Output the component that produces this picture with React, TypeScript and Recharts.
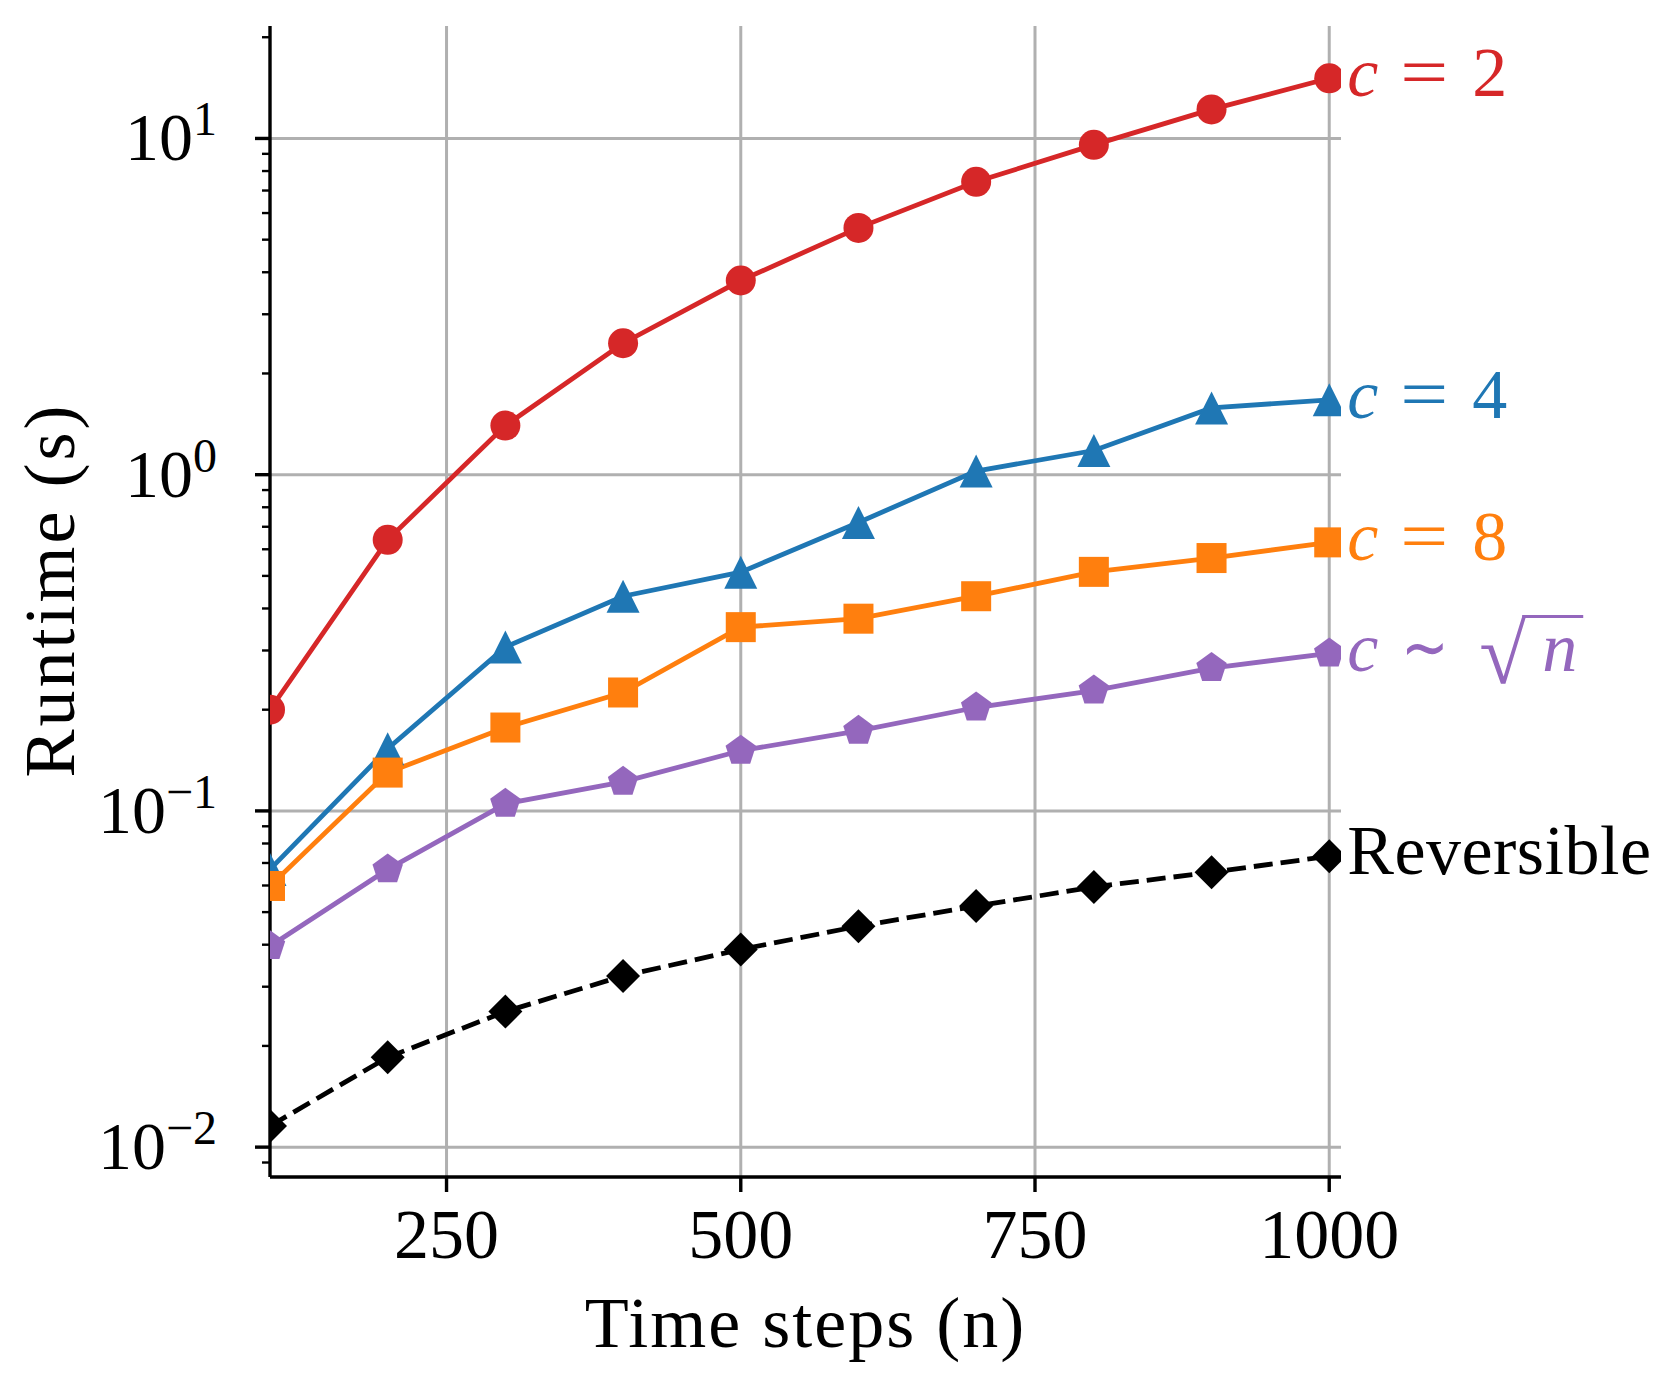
import React from "react";
import { LineChart, Line, XAxis, YAxis, CartesianGrid, LabelList } from "recharts";

// time steps on the x axis
const steps = [100, 200, 300, 400, 500, 600, 700, 800, 900, 1000];

// runtime in seconds per checkpointing setting
const runtimeC2 = [0.2, 0.64, 1.4, 2.46, 3.78, 5.42, 7.43, 9.57, 12.2, 15.1];
const runtimeC4 = [0.067, 0.153, 0.307, 0.435, 0.513, 0.721, 1.025, 1.18, 1.58, 1.67];
const runtimeC8 = [0.0598, 0.13, 0.177, 0.225, 0.352, 0.373, 0.435, 0.514, 0.565, 0.629];
const runtimeSqrt = [0.0396, 0.067, 0.105, 0.122, 0.151, 0.173, 0.203, 0.228, 0.266, 0.294];
const runtimeReversible = [0.01156, 0.0185, 0.0253, 0.0323, 0.0387, 0.0454, 0.0521, 0.0594, 0.0657, 0.0733];

const xTicks = [250, 500, 750, 1000];
const yMajorTicks = [0.01, 0.1, 1, 10];
const yMinorTicks = [
  0.009,
  0.02, 0.03, 0.04, 0.05, 0.06, 0.07, 0.08, 0.09,
  0.2, 0.3, 0.4, 0.5, 0.6, 0.7, 0.8, 0.9,
  2, 3, 4, 5, 6, 7, 8, 9,
  20,
];
const yExponents: Record<string, string> = { "0.01": "\u22122", "0.1": "\u22121", "1": "0", "10": "1" };

const data = steps.map((n, i) => ({
  n,
  c2: runtimeC2[i],
  c4: runtimeC4[i],
  c8: runtimeC8[i],
  sqrt: runtimeSqrt[i],
  rev: runtimeReversible[i],
}));

const FONT = "'Liberation Serif', 'Times New Roman', serif";
const RED = "#d62728";
const BLUE = "#1f77b4";
const ORANGE = "#ff7f0e";
const PURPLE = "#9467bd";

const W = 1659;
const H = 1378;
const PLOT_LEFT = 270;
const PLOT_TOP = 26;
const PLOT_RIGHT = 1341;
const PLOT_BOTTOM = 1177;
const LINE_W = 4.8;

// marker shapes
const circleDot = (color: string) => (p: any) => (
  <circle key={`c-${p.index}`} cx={p.cx} cy={p.cy} r={15} fill={color} />
);
const triangleDot = (color: string) => (p: any) => {
  const s = 16.5;
  return (
    <polygon
      key={`t-${p.index}`}
      points={`${p.cx},${p.cy - s} ${p.cx - s},${p.cy + s} ${p.cx + s},${p.cy + s}`}
      fill={color}
    />
  );
};
const squareDot = (color: string) => (p: any) => (
  <rect key={`s-${p.index}`} x={p.cx - 15} y={p.cy - 15} width={30} height={30} fill={color} />
);
const pentagonDot = (color: string) => (p: any) => {
  const r = 16;
  const pts = [0, 1, 2, 3, 4]
    .map((k) => {
      const a = (-90 + 72 * k) * (Math.PI / 180);
      return `${p.cx + r * Math.cos(a)},${p.cy + r * Math.sin(a)}`;
    })
    .join(" ");
  return <polygon key={`p-${p.index}`} points={pts} fill={color} />;
};
const diamondDot = (color: string) => (p: any) => {
  const s = 17;
  return (
    <polygon
      key={`d-${p.index}`}
      points={`${p.cx},${p.cy - s} ${p.cx + s},${p.cy} ${p.cx},${p.cy + s} ${p.cx - s},${p.cy}`}
      fill={color}
    />
  );
};

// series name written right after the last point
const endLabel = (kind: string, color: string) => (p: any) => {
  if (p.index !== steps.length - 1) return null;
  const x = Number(p.x);
  const y = Number(p.y);
  const base = y + 18;
  const common = { fill: color, fontFamily: FONT, fontSize: 70 };
  if (kind === "rev") {
    return (
      <text x={x + 18} y={base} {...common} letterSpacing={0.5}>
        Reversible
      </text>
    );
  }
  if (kind === "sqrt") {
    return (
      <g>
        <text x={x + 18} y={base} {...common} fontStyle="italic">c</text>
        <text x={x + 72} y={base} {...common} textLength={48} lengthAdjust="spacingAndGlyphs">∼</text>
        <text x={x + 150} y={base + 12} {...common} fontSize={86}>√</text>
        <line x1={x + 193} x2={x + 254} y1={y - 37} y2={y - 37} stroke={color} strokeWidth={3} />
        <text x={x + 213} y={base} {...common} fontStyle="italic">n</text>
      </g>
    );
  }
  return (
    <g>
      <text x={x + 18} y={base} {...common} fontStyle="italic">c</text>
      <text x={x + 71} y={base} {...common} textLength={48} lengthAdjust="spacingAndGlyphs">=</text>
      <text x={x + 143} y={base} {...common}>{kind}</text>
    </g>
  );
};

const XTick = (p: any) => (
  <text x={p.x} y={p.y + 66} textAnchor="middle" fontFamily={FONT} fontSize={70} fill="#000">
    {p.payload.value}
  </text>
);

// y ticks: long tick and power-of-ten label on decades, short tick otherwise
const YTick = (p: any) => {
  const v = p.payload.value;
  const y = p.payload.coordinate ?? p.y;
  const major = yMajorTicks.includes(v);
  return (
    <g>
      <line x1={PLOT_LEFT - (major ? 15 : 8)} x2={PLOT_LEFT} y1={y} y2={y} stroke="#000" strokeWidth={major ? 3.4 : 2.4} />
      {major && (
        <text x={217} y={y + 22} textAnchor="end" fontFamily={FONT} fontSize={68} fill="#000">
          10
          <tspan dy={-25} fontSize={48}>{yExponents[String(v)]}</tspan>
        </text>
      )}
    </g>
  );
};

const XTitle = () => (
  <text x={(PLOT_LEFT + PLOT_RIGHT) / 2} y={1347} textAnchor="middle" fontFamily={FONT} fontSize={72} letterSpacing={2} fill="#000">
    Time steps (n)
  </text>
);

const YTitle = () => (
  <text
    x={74}
    y={590}
    textAnchor="middle"
    transform="rotate(-90, 74, 590)"
    fontFamily={FONT}
    fontSize={72}
    letterSpacing={3}
    fill="#000"
  >
    Runtime (s)
  </text>
);

export default function App() {
  return (
    <div style={{ position: "absolute", left: 0, top: 0, width: W, height: H, background: "#fff" }}>
      <LineChart
        width={W}
        height={H}
        data={data}
        margin={{ top: PLOT_TOP, right: W - PLOT_RIGHT, bottom: 0, left: 0 }}
      >
        <CartesianGrid
          stroke="#b0b0b0"
          strokeWidth={3}
          horizontalValues={yMajorTicks}
          verticalValues={xTicks}
        />
        <XAxis
          dataKey="n"
          type="number"
          domain={[100, 1010]}
          allowDataOverflow
          ticks={xTicks}
          interval={0}
          height={H - PLOT_BOTTOM}
          tickSize={15}
          tickMargin={0}
          tick={<XTick />}
          tickLine={{ stroke: "#000", strokeWidth: 3.4 }}
          axisLine={{ stroke: "#000", strokeWidth: 3.4 }}
          label={{ content: () => <XTitle /> }}
        />
        <YAxis
          type="number"
          scale="log"
          domain={[0.00815, 21.6]}
          allowDataOverflow
          ticks={[...yMajorTicks, ...yMinorTicks]}
          interval={0}
          width={PLOT_LEFT}
          tickSize={0}
          tickMargin={0}
          tickLine={false}
          tick={<YTick />}
          axisLine={{ stroke: "#000", strokeWidth: 3.4 }}
          label={{ content: () => <YTitle /> }}
        />
        <Line
          dataKey="c2"
          stroke={RED}
          strokeWidth={LINE_W}
          dot={circleDot(RED)}
          activeDot={false}
          isAnimationActive={false}
        >
          <LabelList dataKey="c2" content={endLabel("2", RED)} />
        </Line>
        <Line
          dataKey="c4"
          stroke={BLUE}
          strokeWidth={LINE_W}
          dot={triangleDot(BLUE)}
          activeDot={false}
          isAnimationActive={false}
        >
          <LabelList dataKey="c4" content={endLabel("4", BLUE)} />
        </Line>
        <Line
          dataKey="c8"
          stroke={ORANGE}
          strokeWidth={LINE_W}
          dot={squareDot(ORANGE)}
          activeDot={false}
          isAnimationActive={false}
        >
          <LabelList dataKey="c8" content={endLabel("8", ORANGE)} />
        </Line>
        <Line
          dataKey="sqrt"
          stroke={PURPLE}
          strokeWidth={LINE_W}
          dot={pentagonDot(PURPLE)}
          activeDot={false}
          isAnimationActive={false}
        >
          <LabelList dataKey="sqrt" content={endLabel("sqrt", PURPLE)} />
        </Line>
        <Line
          dataKey="rev"
          stroke="#000"
          strokeWidth={LINE_W}
          strokeDasharray="19 8"
          dot={diamondDot("#000")}
          activeDot={false}
          isAnimationActive={false}
        >
          <LabelList dataKey="rev" content={endLabel("rev", "#000")} />
        </Line>
      </LineChart>
    </div>
  );
}
